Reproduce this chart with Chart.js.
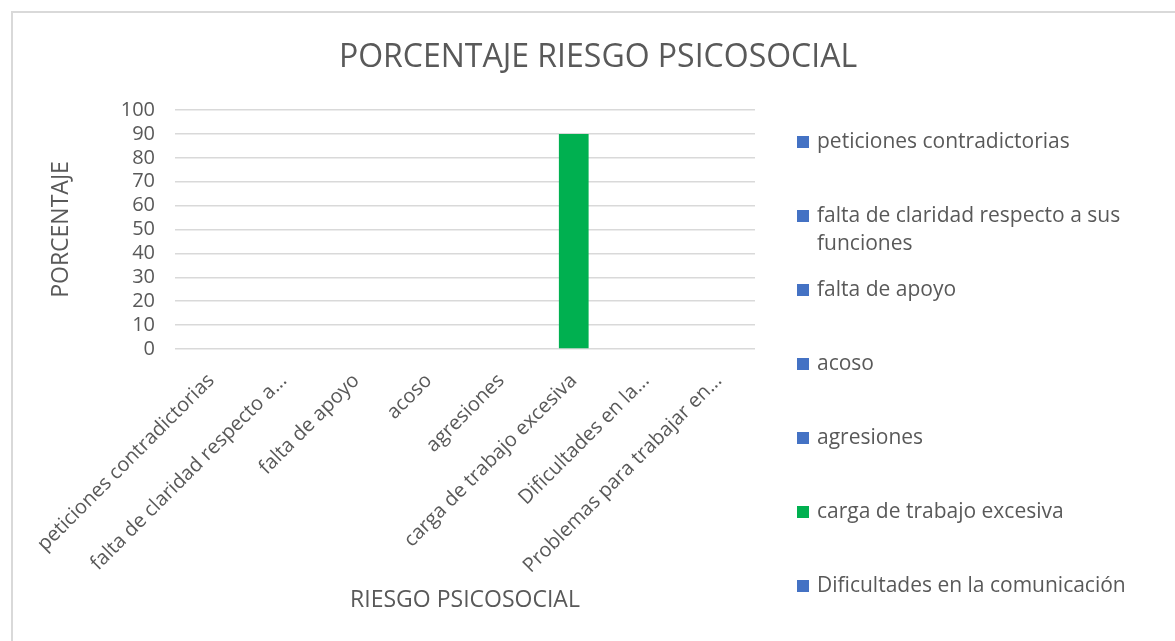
<!DOCTYPE html>
<html>
<head>
<meta charset="utf-8">
<script src="https://cdn.jsdelivr.net/npm/chart.js@4/dist/chart.umd.min.js"></script>
<style>
  body { margin: 0; background: #fff; overflow: hidden; }
  #frame { position: absolute; left: 11px; top: 11px; width: 1200px; height: 700px; border: 2px solid #d9d9d9; }
  #box { position: absolute; left: 0; top: 0; width: 1175px; height: 641px; }
</style>
</head>
<body>
<div id="frame"></div>
<div id="box"><canvas id="riesgo"></canvas></div>
<script>
var chartTitle = 'PORCENTAJE RIESGO PSICOSOCIAL';
// categorias (nombres completos para la leyenda)
var categories = [
  'peticiones contradictorias',
  ['falta de claridad respecto a sus', 'funciones'],
  'falta de apoyo',
  'acoso',
  'agresiones',
  'carga de trabajo excesiva',
  'Dificultades en la comunicación',
  'Problemas para trabajar en...'
];
// etiquetas del eje x tal como aparecen (recortadas)
var tickLabels = [
  'peticiones contradictorias',
  'falta de claridad respecto a...',
  'falta de apoyo',
  'acoso',
  'agresiones',
  'carga de trabajo excesiva',
  'Dificultades en la...',
  'Problemas para trabajar en...'
];
var porcentajes = [0, 0, 0, 0, 0, 90, 0, 0];
var barColors = ['#4472C4', '#4472C4', '#4472C4', '#4472C4', '#4472C4', '#00B050', '#4472C4', '#4472C4'];

var textColor = '#595959';
var fontFamily = "'Open Sans', sans-serif";

// titulo centrado en todo el grafico + leyenda a la derecha, como en Excel
var excelDecor = {
  id: 'excelDecor',
  afterDraw: function (chart) {
    var ctx = chart.ctx;
    ctx.save();
    ctx.fillStyle = textColor;
    ctx.textAlign = 'center';
    ctx.textBaseline = 'middle';
    ctx.font = '32px ' + fontFamily;
    ctx.fillText(chartTitle, 598, 58);

    ctx.font = '21px ' + fontFamily;
    ctx.textAlign = 'left';
    for (var i = 0; i < categories.length; i++) {
      var y = 142 + i * 74;
      if (y > 600) break;
      ctx.fillStyle = barColors[i];
      ctx.fillRect(797, y - 6, 12, 12);
      ctx.fillStyle = textColor;
      var lines = [].concat(categories[i]);
      lines.forEach(function (line, k) {
        ctx.fillText(line, 817, y + k * 28);
      });
    }
    ctx.restore();
  }
};

var ctx = document.getElementById('riesgo').getContext('2d');
var chart = new Chart(ctx, {
  type: 'bar',
  data: {
    labels: tickLabels,
    datasets: [{
      label: 'PORCENTAJE',
      data: porcentajes,
      backgroundColor: barColors,
      categoryPercentage: 1,
      barPercentage: 0.41
    }]
  },
  options: {
    responsive: true,
    maintainAspectRatio: false,
    animation: false,
    layout: { padding: { left: 48, right: 420, top: 110, bottom: 0 } },
    plugins: {
      legend: { display: false },
      tooltip: { enabled: false },
      title: { display: false }
    },
    scales: {
      x: {
        grid: { display: false },
        border: { display: false },
        ticks: {
          color: textColor,
          font: { family: fontFamily, size: 20 },
          minRotation: 45,
          maxRotation: 45,
          autoSkip: false,
          padding: 12
        },
        title: {
          display: true,
          text: 'RIESGO PSICOSOCIAL',
          color: textColor,
          font: { family: fontFamily, size: 23 },
          padding: { top: 8, bottom: 27 }
        },
        afterFit: function (scale) { scale.height = 641 - 349; }
      },
      y: {
        min: 0,
        max: 100,
        ticks: {
          stepSize: 10,
          autoSkip: false,
          color: textColor,
          font: { family: fontFamily, size: 20 },
          padding: 20
        },
        grid: { color: '#d9d9d9', lineWidth: 1.5, drawTicks: false },
        border: { display: false },
        title: {
          display: true,
          text: 'PORCENTAJE',
          color: textColor,
          font: { family: fontFamily, size: 23 },
          padding: { top: 0, bottom: 0 }
        },
        afterFit: function (scale) { scale.width = 127; }
      }
    }
  },
  plugins: [excelDecor]
});
</script>
</body>
</html>
